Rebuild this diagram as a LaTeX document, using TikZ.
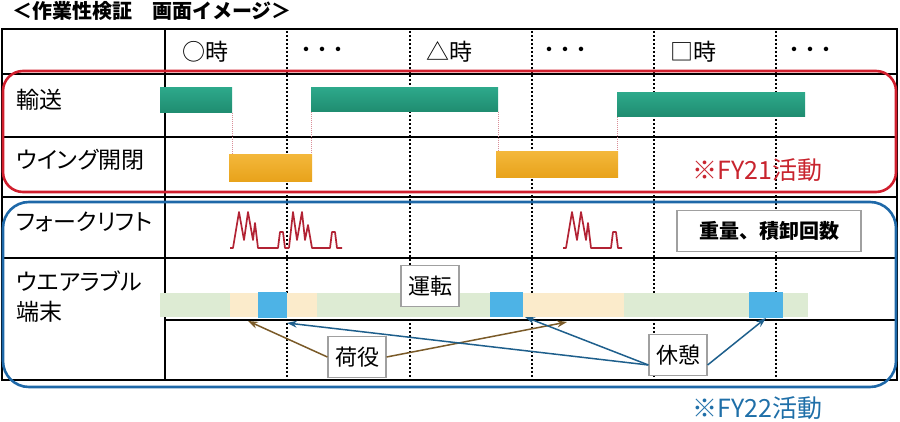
\documentclass[tikz,border=0pt]{standalone}
\usepackage{fontspec}
\setmainfont{Noto Sans CJK JP}
\newfontfamily\jpp[RawFeature=+palt]{Noto Sans CJK JP}
\usetikzlibrary{arrows.meta}
\definecolor{tealT}{HTML}{2DA88A}
\definecolor{tealB}{HTML}{1F8C70}
\definecolor{orgT}{HTML}{F3B73A}
\definecolor{orgB}{HTML}{E8A21A}
\definecolor{redl}{HTML}{D11F2E}
\definecolor{bluel}{HTML}{1E68A8}
\definecolor{fyred}{HTML}{C8242E}
\definecolor{fyblue}{HTML}{1F6FA8}
\definecolor{wave}{HTML}{B22334}
\definecolor{lgreen}{HTML}{DDEBD3}
\definecolor{beige}{HTML}{FBEBCB}
\definecolor{sky}{HTML}{4DB3E6}
\definecolor{brownarr}{HTML}{7A5A28}
\definecolor{bluearr}{HTML}{1E5F8C}
\definecolor{pinkl}{HTML}{D98E98}
\definecolor{boxgray}{HTML}{A0A0A0}
\begin{document}
\begin{tikzpicture}[x=1pt,y=-1pt,
  every node/.style={inner sep=0pt},
  lbl/.style={anchor=west,font=\jpp\fontsize{23}{25}\selectfont},
  hdr/.style={anchor=west,font=\fontsize{23}{25}\selectfont},
  ellip/.style={font=\bfseries\fontsize{16}{18}\selectfont},
  grid/.style={line width=1.8pt,black},
  dotline/.style={line width=1.8pt,dash pattern=on 1.8pt off 2.2pt},
  tealbar/.style={top color=tealT,bottom color=tealB,draw=none},
  orgbar/.style={top color=orgT,bottom color=orgB,draw=none},
  pinkdot/.style={pinkl,line width=0.7pt,dash pattern=on 1pt off 1pt},
  tagbox/.style={draw=boxgray,line width=1.2pt,fill=white,minimum width=58pt,minimum height=41pt,font=\fontsize{22}{24}\selectfont},
  wavestyle/.style={wave,line width=1.7pt,line join=round},
  brownarrow/.style={brownarr,line width=1.5pt,-{Stealth[length=10pt,width=7pt]}},
  bluearrow/.style={bluearr,line width=1.5pt,-{Stealth[length=10pt,width=7pt]}}
]
\useasboundingbox (0,0) rectangle (900,422);
% title
\node[anchor=west,font=\bfseries\fontsize{20}{22}\selectfont] (title) at (12,11) {＜作業性検証　画面イメージ＞};
% table grid
\draw[grid] (2,29) rectangle (897,380);
\draw[grid] (165,29) -- (165,380);
\foreach \yy in {74,137,197,258} \draw[grid] (2,\yy) -- (897,\yy);
\draw[grid] (165,320) -- (897,320);
\foreach \xx in {287,410,532,654,776} \draw[dotline] (\xx,31) -- (\xx,379);
% header
\node[hdr] (h1) at (182,52) {○時};
\node[ellip] (h2) at (322,51) {・・・};
\node[hdr] (h3) at (426,52) {△時};
\node[ellip] (h4) at (565,51) {・・・};
\node[hdr] (h5) at (670,52) {□時};
\node[ellip] (h6) at (810,51) {・・・};
% row labels
\node[lbl] (l1) at (16,100) {輸送};
\node[lbl] (l2) at (16,160) {ウイング開閉};
\node[lbl] (l3) at (16,222) {フォークリフト};
\node[lbl] (l4) at (16,281) {ウエアラブル};
\node[lbl] (l5) at (16,312) {端末};
% transport bars
\draw[pinkdot] (232,113) -- (232,155);
\draw[pinkdot] (311,112) -- (311,155);
\draw[pinkdot] (498,112) -- (498,152);
\draw[pinkdot] (617,117) -- (617,152);
\shade[tealbar] (160,88) rectangle (232,113);
\shade[tealbar] (311,88) rectangle (498,112);
\shade[tealbar] (617,93) rectangle (805,117);
\shade[orgbar] (229,155) rectangle (312,182);
\shade[orgbar] (496,152) rectangle (618,178);
\node[anchor=west,text=fyred,font=\fontsize{25}{27}\selectfont] (fy21) at (692,170) {※FY21活動};
% forklift waves
\foreach \s in {0,333}{
\draw[wavestyle,xshift=\s] (230,248) -- (233,248) -- (239,212) -- (244,240) -- (248,212) -- (253,240) -- (255,223) -- (258,248) -- (278,248) -- (280,232) -- (283,232) -- (285,248) -- (289,248);
}
\draw[wavestyle] (289,248) -- (293,212) -- (297,240) -- (302,212) -- (305,240) -- (308,225) -- (312,248) -- (330,248) -- (332,232) -- (335,232) -- (337,248) -- (342,248);
\node[draw=boxgray,line width=1.2pt,fill=white,minimum width=184pt,minimum height=41pt,font=\bfseries\fontsize{20}{22}\selectfont] (load) at (769,231) {重量、積卸回数};
% wearable bars
\fill[lgreen] (160,293) rectangle (808,317);
\fill[beige] (230,293) rectangle (258,317);
\fill[beige] (287,293) rectangle (317,317);
\fill[beige] (523,293) rectangle (624,317);
\fill[sky] (258,292) rectangle (287,318);
\fill[sky] (490,292) rectangle (523,317);
\fill[sky] (749,292) rectangle (783,318);
\node[tagbox] (drive) at (430,286) {運転};
\node[tagbox] (cargo) at (357,357) {荷役};
\node[tagbox] (rest) at (678,355) {休憩};
\coordinate (c1) at (248,321);
\coordinate (c2) at (567,322);
\coordinate (r1) at (287,323);
\coordinate (r2) at (525,317);
\coordinate (r3) at (766,318);
\draw[brownarrow] (cargo.west) -- (c1);
\draw[brownarrow] (cargo.east) -- (c2);
\draw[bluearrow] ([yshift=-10pt]rest.west) -- (r1);
\draw[bluearrow] ([yshift=-10pt]rest.west) -- (r2);
\draw[bluearrow] ([yshift=-10pt]rest.east) -- (r3);
% activity frames
\draw[redl,line width=2.6pt,rounded corners=20pt] (3,71) rectangle (896,192);
\draw[bluel,line width=2.6pt,rounded corners=26pt] (3,202) rectangle (896,387);
\node[anchor=west,text=fyblue,font=\fontsize{25}{27}\selectfont] (fy22) at (692,408) {※FY22活動};
\end{tikzpicture}
\end{document}
